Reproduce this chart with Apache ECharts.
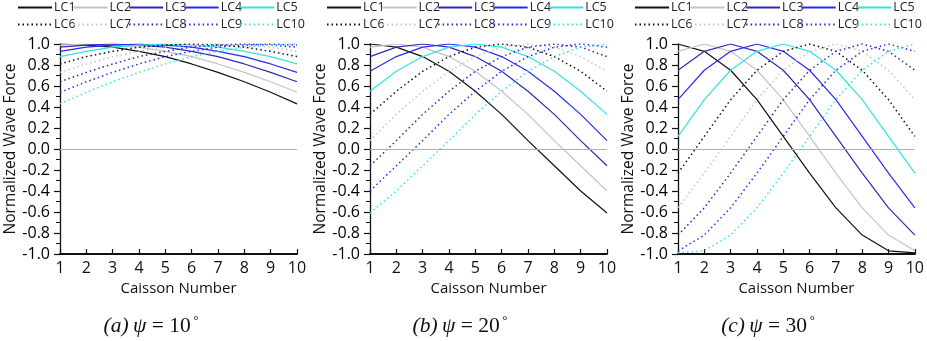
<!DOCTYPE html>
<html><head><meta charset="utf-8">
<script src="https://cdn.jsdelivr.net/npm/echarts@6/dist/echarts.min.js"></script>
<style>html,body{margin:0;padding:0;background:#fff}#c{width:927px;height:341px}</style>
</head><body><div id="c"></div>
<script>
var caissons = ['1','2','3','4','5','6','7','8','9','10'];
var yTicks = [-1.0,-0.8,-0.6,-0.4,-0.2,0.0,0.2,0.4,0.6,0.8,1.0];
var seriesNames = ['LC1','LC2','LC3','LC4','LC5','LC6','LC7','LC8','LC9','LC10'];
var captions = ['a','b','c'];
var angles = ['10','20','30'];

// Panel (a) psi = 10 deg
var a_LC1  = [1.00,0.99,0.97,0.93,0.88,0.81,0.73,0.64,0.54,0.43];
var a_LC2  = [0.99,1.00,0.99,0.97,0.93,0.88,0.81,0.73,0.64,0.54];
var a_LC3  = [0.97,0.99,1.00,0.99,0.97,0.93,0.88,0.81,0.73,0.64];
var a_LC4  = [0.93,0.97,0.99,1.00,0.99,0.97,0.93,0.88,0.81,0.73];
var a_LC5  = [0.88,0.93,0.97,0.99,1.00,0.99,0.97,0.93,0.88,0.81];
var a_LC6  = [0.81,0.88,0.93,0.97,0.99,1.00,0.99,0.97,0.93,0.88];
var a_LC7  = [0.73,0.81,0.88,0.93,0.97,0.99,1.00,0.99,0.97,0.93];
var a_LC8  = [0.64,0.73,0.81,0.88,0.93,0.97,0.99,1.00,0.99,0.97];
var a_LC9  = [0.54,0.64,0.73,0.81,0.88,0.93,0.97,0.99,1.00,0.99];
var a_LC10 = [0.43,0.54,0.64,0.73,0.81,0.88,0.93,0.97,0.99,1.00];

// Panel (b) psi = 20 deg
var b_LC1  = [1.00,0.97,0.88,0.74,0.55,0.33,0.08,-0.16,-0.40,-0.61];
var b_LC2  = [0.97,1.00,0.97,0.88,0.74,0.55,0.33,0.08,-0.16,-0.40];
var b_LC3  = [0.88,0.97,1.00,0.97,0.88,0.74,0.55,0.33,0.08,-0.16];
var b_LC4  = [0.74,0.88,0.97,1.00,0.97,0.88,0.74,0.55,0.33,0.08];
var b_LC5  = [0.55,0.74,0.88,0.97,1.00,0.97,0.88,0.74,0.55,0.33];
var b_LC6  = [0.33,0.55,0.74,0.88,0.97,1.00,0.97,0.88,0.74,0.55];
var b_LC7  = [0.08,0.33,0.55,0.74,0.88,0.97,1.00,0.97,0.88,0.74];
var b_LC8  = [-0.16,0.08,0.33,0.55,0.74,0.88,0.97,1.00,0.97,0.88];
var b_LC9  = [-0.40,-0.16,0.08,0.33,0.55,0.74,0.88,0.97,1.00,0.97];
var b_LC10 = [-0.61,-0.40,-0.16,0.08,0.33,0.55,0.74,0.88,0.97,1.00];

// Panel (c) psi = 30 deg
var c_LC1  = [1.00,0.93,0.75,0.47,0.12,-0.23,-0.56,-0.82,-0.97,-0.99];
var c_LC2  = [0.93,1.00,0.93,0.75,0.47,0.12,-0.23,-0.56,-0.82,-0.97];
var c_LC3  = [0.75,0.93,1.00,0.93,0.75,0.47,0.12,-0.23,-0.56,-0.82];
var c_LC4  = [0.47,0.75,0.93,1.00,0.93,0.75,0.47,0.12,-0.23,-0.56];
var c_LC5  = [0.12,0.47,0.75,0.93,1.00,0.93,0.75,0.47,0.12,-0.23];
var c_LC6  = [-0.23,0.12,0.47,0.75,0.93,1.00,0.93,0.75,0.47,0.12];
var c_LC7  = [-0.56,-0.23,0.12,0.47,0.75,0.93,1.00,0.93,0.75,0.47];
var c_LC8  = [-0.82,-0.56,-0.23,0.12,0.47,0.75,0.93,1.00,0.93,0.75];
var c_LC9  = [-0.97,-0.82,-0.56,-0.23,0.12,0.47,0.75,0.93,1.00,0.93];
var c_LC10 = [-0.99,-0.97,-0.82,-0.56,-0.23,0.12,0.47,0.75,0.93,1.00];

var panelData = [
  [a_LC1,a_LC2,a_LC3,a_LC4,a_LC5,a_LC6,a_LC7,a_LC8,a_LC9,a_LC10],
  [b_LC1,b_LC2,b_LC3,b_LC4,b_LC5,b_LC6,b_LC7,b_LC8,b_LC9,b_LC10],
  [c_LC1,c_LC2,c_LC3,c_LC4,c_LC5,c_LC6,c_LC7,c_LC8,c_LC9,c_LC10]
];

var colors = ['#111111','#c4c4c4','#2b2bb8','#2a2af2','#33e3e3'];
var gridLeft = [60, 370, 678];
var gridW = 237;
var legendLeft = [17, 326, 634];
var captionCenter = [151, 460, 768];

var font = "'Open Sans', 'Noto Sans', sans-serif";
var narrow = "'Liberation Sans Narrow', 'Open Sans', sans-serif";
var serif = "'Liberation Serif', 'DejaVu Serif', serif";

var grids = [], xAxes = [], yAxes = [], series = [], legends = [], graphics = [];
for (var p = 0; p < 3; p++) {
  grids.push({left: gridLeft[p], top: 44, width: gridW, height: 210, containLabel: false});
  xAxes.push({
    type: 'category', gridIndex: p, data: caissons, boundaryGap: false,
    name: 'Caisson Number', nameLocation: 'middle', nameGap: 27,
    nameTextStyle: {fontFamily: narrow, fontSize: 15, color: '#111'},
    axisLine: {onZero: false, lineStyle: {color: '#111', width: 2}},
    axisTick: {show: true, inside: true, length: 5, lineStyle: {color: '#111', width: 1.2}},
    axisLabel: {fontFamily: narrow, fontSize: 16, color: '#111', margin: 6, interval: 0},
    splitLine: {show: false}
  });
  yAxes.push({
    type: 'value', gridIndex: p, min: -1, max: 1, interval: 0.2,
    name: 'Normalized Wave Force', nameLocation: 'middle', nameGap: 40,
    nameTextStyle: {fontFamily: font, fontSize: 15.5, color: '#111'},
    axisLine: {show: true, lineStyle: {color: '#111', width: 1.3}},
    axisTick: {show: true, inside: false, length: 6, lineStyle: {color: '#111', width: 1.2}},
    minorTick: {show: true, splitNumber: 2, length: 4, lineStyle: {color: '#111', width: 1}},
    axisLabel: {fontFamily: font, fontSize: 16, color: '#000', margin: 10,
      formatter: function (v) { return v.toFixed(1); }},
    splitLine: {show: false}
  });
  for (var s = 0; s < 10; s++) {
    var ser = {
      name: seriesNames[s], type: 'line', xAxisIndex: p, yAxisIndex: p,
      data: panelData[p][s], symbol: 'none', smooth: false, animation: false,
      color: colors[s % 5],
      lineStyle: {color: colors[s % 5], width: s < 5 ? 1.2 : 1.5, type: s < 5 ? 'solid' : [1.5, 3]},
      z: 3
    };
    if (s === 0) {
      ser.markLine = {silent: true, symbol: 'none', label: {show: false}, animation: false,
        lineStyle: {color: '#b0b0b0', width: 1, type: 'solid'}, data: [{yAxis: 0}]};
    }
    series.push(ser);
  }
  for (var r = 0; r < 2; r++) {
    legends.push({
      left: legendLeft[p], top: r === 0 ? 1 : 18, width: 300, orient: 'horizontal',
      itemWidth: 34, itemHeight: 12, itemGap: -3, padding: 0,
      data: seriesNames.slice(r * 5, r * 5 + 5),
      itemStyle: {color: 'transparent', borderColor: 'transparent', borderWidth: 0, opacity: 0},
      textStyle: {fontFamily: font, fontSize: 12.5, color: '#222', padding: [0, 0, 0, -3]},
      selectedMode: false
    });
  }
  graphics.push({
    type: 'text', x: captionCenter[p], y: 326,
    style: {
      text: '{i|(' + captions[p] + ')\u2009\u03C8}{n| = ' + angles[p] + '}{s|\u2009\u00B0}',
      align: 'center', verticalAlign: 'middle',
      rich: {
        i: {fontFamily: serif, fontStyle: 'italic', fontSize: 21.5, fill: '#111'},
        n: {fontFamily: serif, fontSize: 21.5, fill: '#111'},
        s: {fontFamily: serif, fontSize: 13, fill: '#111', verticalAlign: 'top', padding: [0,0,10,0]}
      }
    }
  });
}

var chart = echarts.init(document.getElementById('c'), null, {renderer: 'canvas'});
chart.setOption({
  animation: false,
  backgroundColor: '#ffffff',
  grid: grids, xAxis: xAxes, yAxis: yAxes, series: series, legend: legends, graphic: graphics
});
</script></body></html>
